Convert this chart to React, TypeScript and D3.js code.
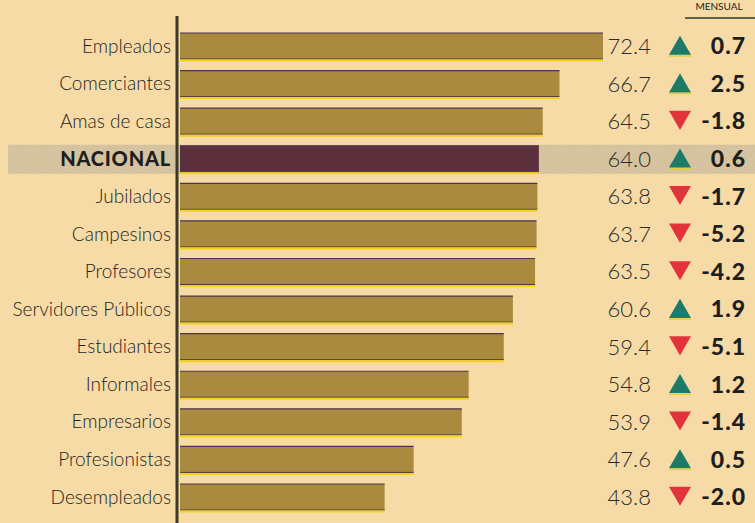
import React from 'react'
import * as d3 from 'd3'

const categories = [
    'Empleados', 'Comerciantes', 'Amas de casa', 'NACIONAL', 'Jubilados', 'Campesinos', 'Profesores',
    'Servidores Públicos', 'Estudiantes', 'Informales', 'Empresarios', 'Profesionistas', 'Desempleados',
]
const values = [72.4, 66.7, 64.5, 64.0, 63.8, 63.7, 63.5, 60.6, 59.4, 54.8, 53.9, 47.6, 43.8]
const changes = [0.7, 2.5, -1.8, 0.6, -1.7, -5.2, -4.2, 1.9, -5.1, 1.2, -1.4, 0.5, -2.0]
const highlight = 'NACIONAL'

const W = 755
const H = 523
const FONT = 'Lato, "Open Sans", sans-serif'

const App = () => {
    // scales
    const x = d3.scaleLinear().domain([17, 72.4]).range([180, 603])
    const y = d3.scalePoint<string>().domain(categories).range([46, 497])
    const barH = 26
    const tri = d3.symbol().type(d3.symbolTriangle).size(210)

    return (
        <svg width={W} height={H} style={{ position: 'absolute', left: 0, top: 0, background: '#f6dba6' }}>
            <defs>
                <pattern id="hatch" width="3" height="3" patternUnits="userSpaceOnUse">
                    <rect width="3" height="3" fill="#d9c7a4" />
                    <path d="M0,3 L3,0" stroke="#c9b794" strokeWidth="0.8" />
                </pattern>
            </defs>

            {/* header */}
            <text x={719} y={10} textAnchor="middle" fontFamily={FONT} fontSize={10} fill="#222">MENSUAL</text>
            <line x1={685} x2={755} y1={18} y2={18} stroke="#333" strokeWidth={1.5} />

            {/* highlighted row band */}
            <rect x={8} y={y(highlight)! - 14} width={W - 8} height={29} fill="url(#hatch)" />

            {categories.map((c, i) => {
                const cy = y(c)!
                const isH = c === highlight
                const up = changes[i] >= 0
                return (
                    <g key={c}>
                        <rect x={x(17)} y={cy - barH / 2} width={x(values[i]) - x(17)} height={barH}
                            fill={isH ? '#5b2f3b' : '#a98a3e'} />
                        <line x1={x(17)} x2={x(values[i])} y1={cy - barH / 2} y2={cy - barH / 2}
                            stroke="#4c3552" strokeWidth={1.2} />
                        <line x1={x(17)} x2={x(values[i])} y1={cy + barH / 2} y2={cy + barH / 2}
                            stroke="#4a3a30" strokeWidth={1} />
                        <line x1={x(17)} x2={x(values[i])} y1={cy + barH / 2 + 1.5} y2={cy + barH / 2 + 1.5}
                            stroke="#f2d21c" strokeWidth={2} />
                        <text x={171} y={cy} dy="0.35em" textAnchor="end" fontFamily={FONT}
                            fontSize={isH ? 20 : 19} fontWeight={isH ? 900 : 300} letterSpacing={isH ? 0.8 : 0}
                            fill="#1e1e1e">{c}</text>
                        <text x={651} y={cy} dy="0.36em" textAnchor="end" fontFamily={FONT}
                            fontSize={22} fontWeight={300} fill="#2a2a2a">{values[i].toFixed(1)}</text>
                        <path d={tri()!} transform={`translate(680,${cy + (up ? 2.5 : -4)}) rotate(${up ? 0 : 180})`}
                            fill={up ? '#1c7a66' : '#e2333c'} />
                        {up && <line x1={669} x2={691} y1={cy + 10} y2={cy + 10} stroke="#e8d030" strokeWidth={1.5} />}
                        <text x={746} y={cy} dy="0.36em" textAnchor="end" fontFamily={FONT}
                            fontSize={23} fontWeight={900} letterSpacing={1} fill="#1e1e1e">{changes[i].toFixed(1)}</text>
                    </g>
                )
            })}

            {/* axis line */}
            <line x1={177} x2={177} y1={16} y2={H} stroke="#3a3a26" strokeWidth={3} />
        </svg>
    )
}

export default App
